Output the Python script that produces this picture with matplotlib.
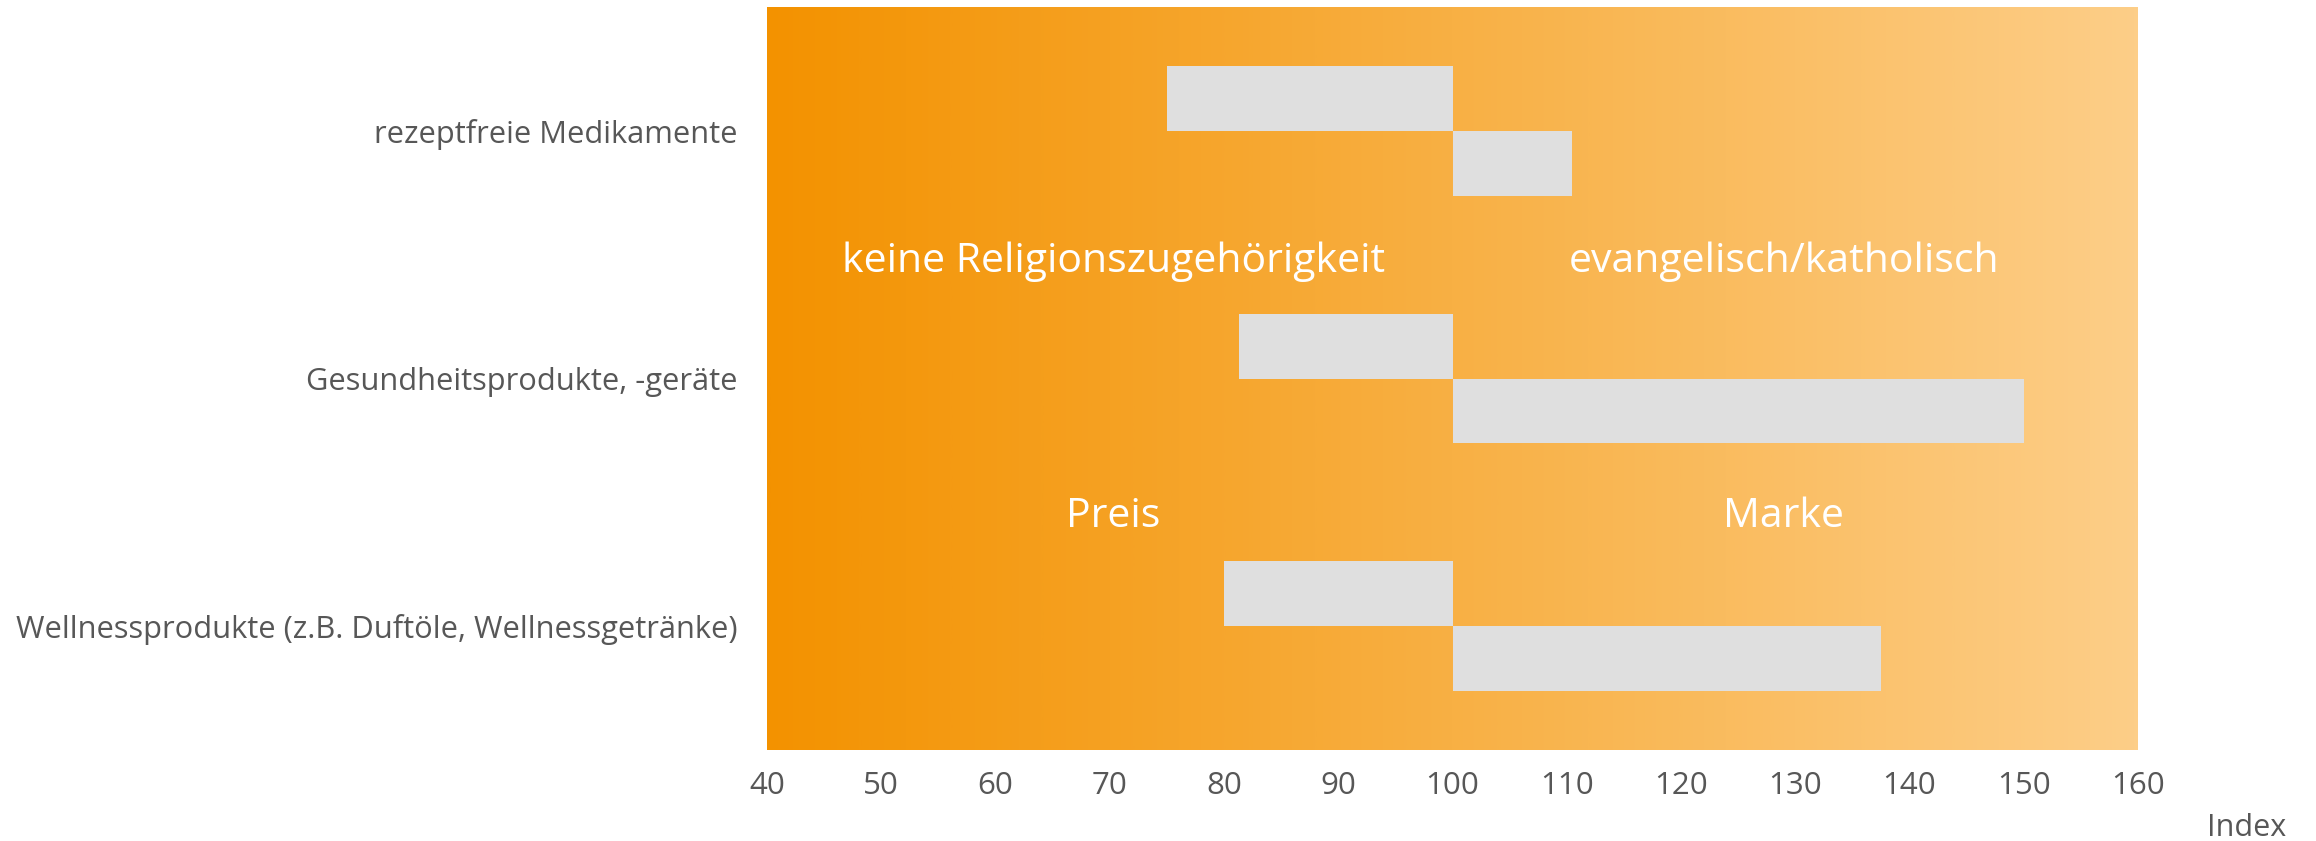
import numpy as np
import matplotlib
matplotlib.use("Agg")
import matplotlib.pyplot as plt
from matplotlib.colors import LinearSegmentedColormap

plt.rcParams['font.family'] = ['Open Sans', 'DejaVu Sans']

categories = ["rezeptfreie Medikamente", "Gesundheitsprodukte, -geräte",
              "Wellnessprodukte (z.B. Duftöle, Wellnessgetränke)"]
series_low = [75.0, 81.3, 80.0]     # upper bar of each pair (index < 100)
series_high = [110.5, 150.0, 137.5]  # lower bar of each pair (index > 100)
baseline = 100
xticks = [40, 50, 60, 70, 80, 90, 100, 110, 120, 130, 140, 150, 160]
overlay_texts = [("keine Religionszugehörigkeit", 70.3, 0.53),
                 ("evangelisch/katholisch", 129.0, 0.53),
                 ("Preis", 70.3, 1.56),
                 ("Marke", 129.0, 1.56)]

W, H, DPI = 2316, 841, 100
fig = plt.figure(figsize=(W / DPI, H / DPI), dpi=DPI)
ax = fig.add_axes([767 / W, (841 - 750) / H, (2138 - 767) / W, (750 - 7) / H])

xmin, xmax = 40, 160
ax.set_xlim(xmin, xmax)
ax.set_ylim(2.5, -0.5)

cmap = LinearSegmentedColormap.from_list("g", ["#F39200", "#F8B044", "#FDCE88"])
grad = np.linspace(0, 1, 512).reshape(1, -1)
ax.imshow(grad, cmap=cmap, extent=[xmin, xmax, 2.5, -0.5], aspect='auto', zorder=0)

y = np.arange(len(categories))
h = 0.262
ax.barh(y - h / 2, np.array(series_low) - baseline, left=baseline, height=h,
        color="#DFDFDF", zorder=2, linewidth=0)
ax.barh(y + h / 2, np.array(series_high) - baseline, left=baseline, height=h,
        color="#DFDFDF", zorder=2, linewidth=0)

for txt, xv, yv in overlay_texts:
    ax.text(xv, yv, txt, color="white", fontsize=29.5, ha="center", va="center", zorder=3)

ax.set_yticks(y)
ax.set_yticklabels(categories, fontsize=22.2, color="#575757")
ax.set_xticks(xticks)
ax.set_xticklabels([str(t) for t in xticks], fontsize=22.5, color="#575757")
ax.tick_params(axis='y', length=0, pad=21)
ax.tick_params(axis='x', length=0, pad=15)
for s in ax.spines.values():
    s.set_visible(False)

fig.text(2286 / W, 1 - 828 / H, "Index", fontsize=22, color="#575757", ha="right", va="center")

fig.savefig("out.png", dpi=DPI, facecolor="white")
